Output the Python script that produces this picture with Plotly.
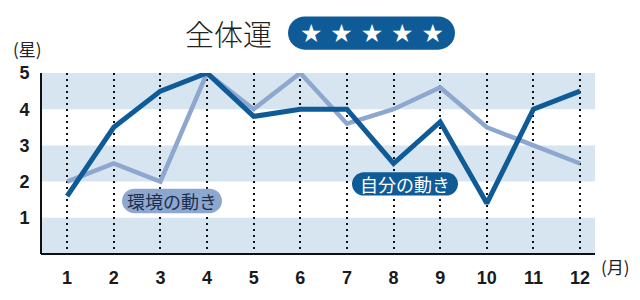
import plotly.graph_objects as go

months = list(range(1, 13))
month_labels = [str(m) for m in months]
self_vals = [1.6, 3.5, 4.5, 5.0, 3.8, 4.0, 4.0, 2.5, 3.65, 1.4, 4.0, 4.5]
env_vals = [2.0, 2.5, 2.0, 5.0, 4.0, 5.0, 3.6, 4.0, 4.6, 3.5, 3.0, 2.5]
y_ticks = [1, 2, 3, 4, 5]
band_ranges = [(0, 1), (2, 3), (4, 5)]

DARK = "#0f5b97"
LIGHT = "#8ea7cf"
BAND = "#d6e5f0"
CJK = "Noto Sans CJK JP"

W, H = 640, 300
L, R, T, B = 41, 45, 73, 41
PW, PH = W - L - R, H - T - B


def px(x):
    return (x - L) / PW


def py(y):
    return (H - B - y) / PH


def pill(x0, y0, x1, y1):
    r = (y1 - y0) / 2.0
    ym = (y0 + y1) / 2.0
    k = 0.5523 * r
    s = f"M{px(x0 + r)},{py(y0)} L{px(x1 - r)},{py(y0)} "
    s += f"C{px(x1 - r + k)},{py(y0)} {px(x1)},{py(ym - k)} {px(x1)},{py(ym)} "
    s += f"C{px(x1)},{py(ym + k)} {px(x1 - r + k)},{py(y1)} {px(x1 - r)},{py(y1)} "
    s += f"L{px(x0 + r)},{py(y1)} "
    s += f"C{px(x0 + r - k)},{py(y1)} {px(x0)},{py(ym + k)} {px(x0)},{py(ym)} "
    s += f"C{px(x0)},{py(ym - k)} {px(x0 + r - k)},{py(y0)} {px(x0 + r)},{py(y0)} Z"
    return s


def label(text, cx, cy, font):
    return dict(text=text, x=px(cx), y=py(cy), xref="paper", yref="paper",
                xanchor="center", yanchor="middle", showarrow=False, font=font)


fig = go.Figure()
fig.add_trace(go.Scatter(x=months, y=env_vals, mode="lines",
                         line=dict(color=LIGHT, width=4.5), cliponaxis=False,
                         hoverinfo="skip"))
fig.add_trace(go.Scatter(x=months, y=self_vals, mode="lines",
                         line=dict(color=DARK, width=5), cliponaxis=False,
                         hoverinfo="skip"))

shapes = []
for y0, y1 in band_ranges:
    shapes.append(dict(type="rect", xref="paper", yref="y", x0=0, x1=1, y0=y0, y1=y1,
                       fillcolor=BAND, line=dict(width=0), layer="below"))
shapes.append(dict(type="line", xref="paper", yref="paper", x0=0, x1=0, y0=0, y1=1,
                   line=dict(color="#111", width=2)))
shapes.append(dict(type="line", xref="paper", yref="paper", x0=0, x1=1, y0=0, y1=0,
                   line=dict(color="#111", width=2)))
shapes.append(dict(type="path", xref="paper", yref="paper", path=pill(122, 192, 222, 217),
                   fillcolor=LIGHT, line=dict(width=0)))
shapes.append(dict(type="path", xref="paper", yref="paper", path=pill(352, 175, 458, 199),
                   fillcolor=DARK, line=dict(width=0)))
shapes.append(dict(type="path", xref="paper", yref="paper", path=pill(288, 15, 455, 49),
                   fillcolor=DARK, line=dict(width=0)))

annotations = [
    label("環境の動き", 172, 205, dict(family=CJK, size=18, color="#1c2e4f")),
    label("自分の動き", 405, 187, dict(family=CJK, size=18, color="white")),
    label("全体運", 228, 32, dict(family=CJK, size=29, color="#222", weight=300)),
    label("★ ★ ★ ★ ★", 372, 32, dict(family="DejaVu Sans", size=25, color="white")),
    label("(星)", 27, 48, dict(family=CJK, size=17, color="#222")),
    label("(月)", 615, 272, dict(family=CJK, size=17, color="#222")),
]

fig.update_layout(
    width=W, height=H,
    margin=dict(l=L, r=R, t=T, b=B),
    paper_bgcolor="white", plot_bgcolor="white",
    showlegend=False,
    shapes=shapes,
    annotations=annotations,
    xaxis=dict(range=[0.44, 12.32], tickvals=months, ticktext=month_labels,
               showgrid=True, gridcolor="#111", gridwidth=2, griddash="2px,4px",
               zeroline=False, showline=False, ticks="outside", ticklen=7,
               tickcolor="rgba(0,0,0,0)", fixedrange=True,
               tickfont=dict(family="Liberation Sans", size=18, color="#1a1a1a", weight="bold")),
    yaxis=dict(range=[0, 5], tickvals=y_ticks, showgrid=False, zeroline=False,
               showline=False, ticks="outside", ticklen=7, tickcolor="rgba(0,0,0,0)",
               fixedrange=True,
               tickfont=dict(family="Liberation Sans", size=18, color="#1a1a1a", weight="bold")),
)

fig.write_html("out.html", config={"displayModeBar": False})
